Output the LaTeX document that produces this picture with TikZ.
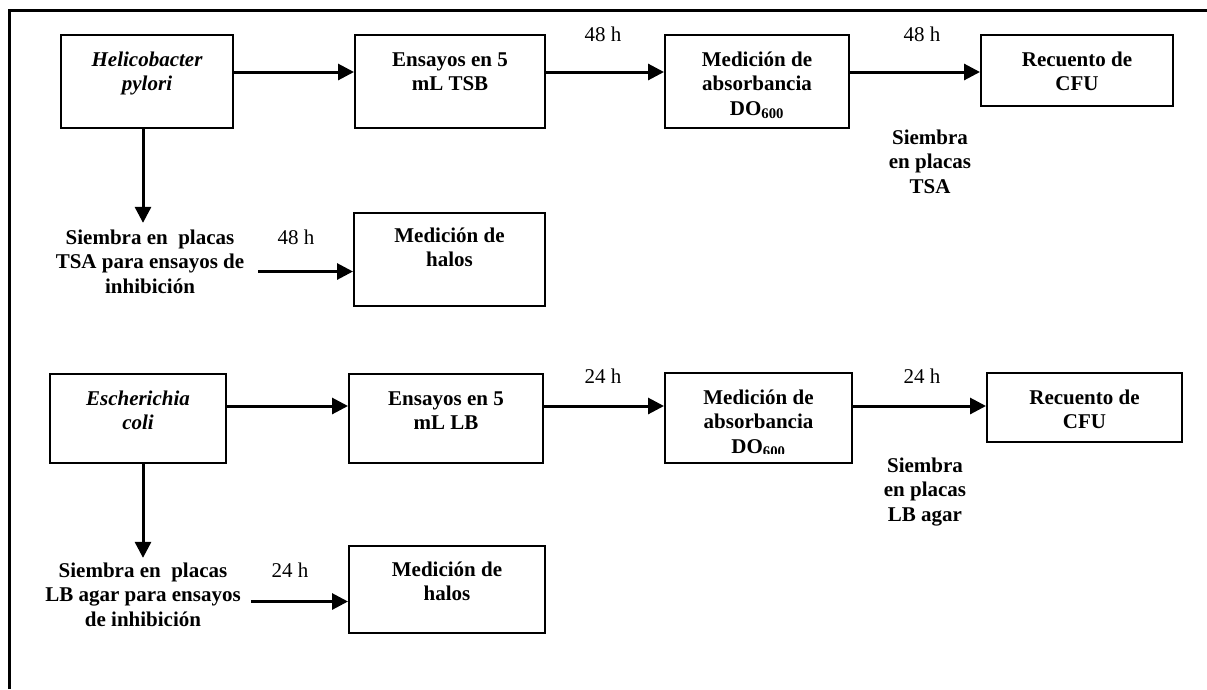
\documentclass[tikz,border=0pt]{standalone}
\usepackage{fontspec}
\setmainfont{Liberation Serif}
\usetikzlibrary{arrows.meta,calc}
\begin{document}
\begin{tikzpicture}[x=1pt,y=-1pt,
  box/.style={draw,line width=2pt,inner sep=0pt},
  txt/.style={inner sep=0pt,align=center,anchor=north,font=\fontsize{21}{24.5}\selectfont\bfseries},
  itxt/.style={txt,font=\fontsize{21}{24.5}\selectfont\bfseries\itshape},
  lbl/.style={inner sep=0pt,anchor=base,font=\fontsize{21}{24.5}\selectfont},
  arr/.style={line width=3pt,-{Triangle[length=16pt,width=16pt]}},
  frame/.style={line width=3pt}]
\useasboundingbox (0,0) rectangle (1207,689);
% frame (top and left edges)
\draw[frame] (9,689) -- (9,10) -- (1210,10);

% ---------- Helicobacter row ----------
\node[box,minimum width=172pt,minimum height=93pt] (hp) at (147,81.5) {};
\node[itxt] (hpt) at ($(hp.north)+(0,15)$) {\strut Helicobacter\\pylori};
\node[box,minimum width=190pt,minimum height=93pt] (ens1) at (450,81.5) {};
\node[txt] (ens1t) at ($(ens1.north)+(0,15)$) {\strut Ensayos en 5\\mL TSB};
\node[box,minimum width=184pt,minimum height=93pt] (abs1) at (757,81.5) {};
\node[txt] (abs1t) at ($(abs1.north)+(0,15)$) {\strut Medición de\\absorbancia\\DO\textsubscript{600}};
\node[box,minimum width=192pt,minimum height=71pt] (rec1) at (1077,70.5) {};
\node[txt] (rec1t) at ($(rec1.north)+(0,15)$) {\strut Recuento de\\CFU};
\node[lbl] (h1a) at (603,41) {48 h};
\node[lbl] (h1b) at (922,41) {48 h};
\node[txt] (sieTSA) at (930,126.85) {\strut Siembra\\en placas\\TSA};
\node[txt] (sie1) at (150,226.85) {\strut Siembra en \ placas\\TSA para ensayos de\\inhibición};
\node[lbl] (h1c) at (296,244) {48 h};
\node[box,minimum width=191pt,minimum height=93pt] (hal1) at (449.5,259.5) {};
\node[txt] (hal1t) at ($(hal1.north)+(0,13)$) {\strut Medición de\\halos};

\draw[arr] ($(hp.north east)+(0,38)$) -- ($(ens1.north west)+(0,38)$);
\draw[arr] ($(ens1.north east)+(0,38)$) -- ($(abs1.north west)+(0,38)$);
\draw[arr] ($(abs1.north east)+(0,38)$) -- ($(rec1.north west)+(0,38)$);
\draw[arr] ($(hp.south)+(-4,0)$) -- ($(hp.south |- sie1.north)+(-4,-4)$);
\draw[arr] ($(sie1.east |- hal1.west)+(14,12)$) -- ($(hal1.west)+(0,12)$);

% ---------- Escherichia row ----------
\node[box,minimum width=176pt,minimum height=89pt] (ec) at (138,418.5) {};
\node[itxt] (ect) at ($(ec.north)+(0,15)$) {\strut Escherichia\\coli};
\node[box,minimum width=194pt,minimum height=89pt] (ens2) at (446,418.5) {};
\node[txt] (ens2t) at ($(ens2.north)+(0,15)$) {\strut Ensayos en 5\\mL LB};
\node[box,minimum width=187pt,minimum height=90pt] (abs2) at (758.5,418) {};
\begin{scope}
\clip (665,373) rectangle (852,453);
\node[txt] (abs2t) at ($(abs2.north)+(0,15)$) {\strut Medición de\\absorbancia\\DO\textsubscript{600}};
\end{scope}
\node[box,minimum width=195pt,minimum height=69pt] (rec2) at (1084.5,407.5) {};
\node[txt] (rec2t) at ($(rec2.north)+(0,15)$) {\strut Recuento de\\CFU};
\node[lbl] (h2a) at (603,383) {24 h};
\node[lbl] (h2b) at (922,383) {24 h};
\node[txt] (sieLB) at (925,454.85) {\strut Siembra\\en placas\\LB agar};
\node[txt] (sie2) at (143,559.85) {\strut Siembra en \ placas\\LB agar para ensayos\\de inhibición};
\node[lbl] (h2c) at (290,577) {24 h};
\node[box,minimum width=196pt,minimum height=87pt] (hal2) at (447,589.5) {};
\node[txt] (hal2t) at ($(hal2.north)+(0,14)$) {\strut Medición de\\halos};

\draw[arr] ($(ec.north east)+(0,33)$) -- ($(ens2.north west)+(0,33)$);
\draw[arr] ($(ens2.north east)+(0,33)$) -- ($(abs2.north west)+(0,34)$);
\draw[arr] ($(abs2.north east)+(0,34)$) -- ($(rec2.north west)+(0,34)$);
\draw[arr] ($(ec.south)+(5,0)$) -- ($(ec.south |- sie2.north)+(5,-2)$);
\draw[arr] ($(sie2.east |- hal2.west)+(10,12)$) -- ($(hal2.west)+(0,12)$);
\end{tikzpicture}
\end{document}
